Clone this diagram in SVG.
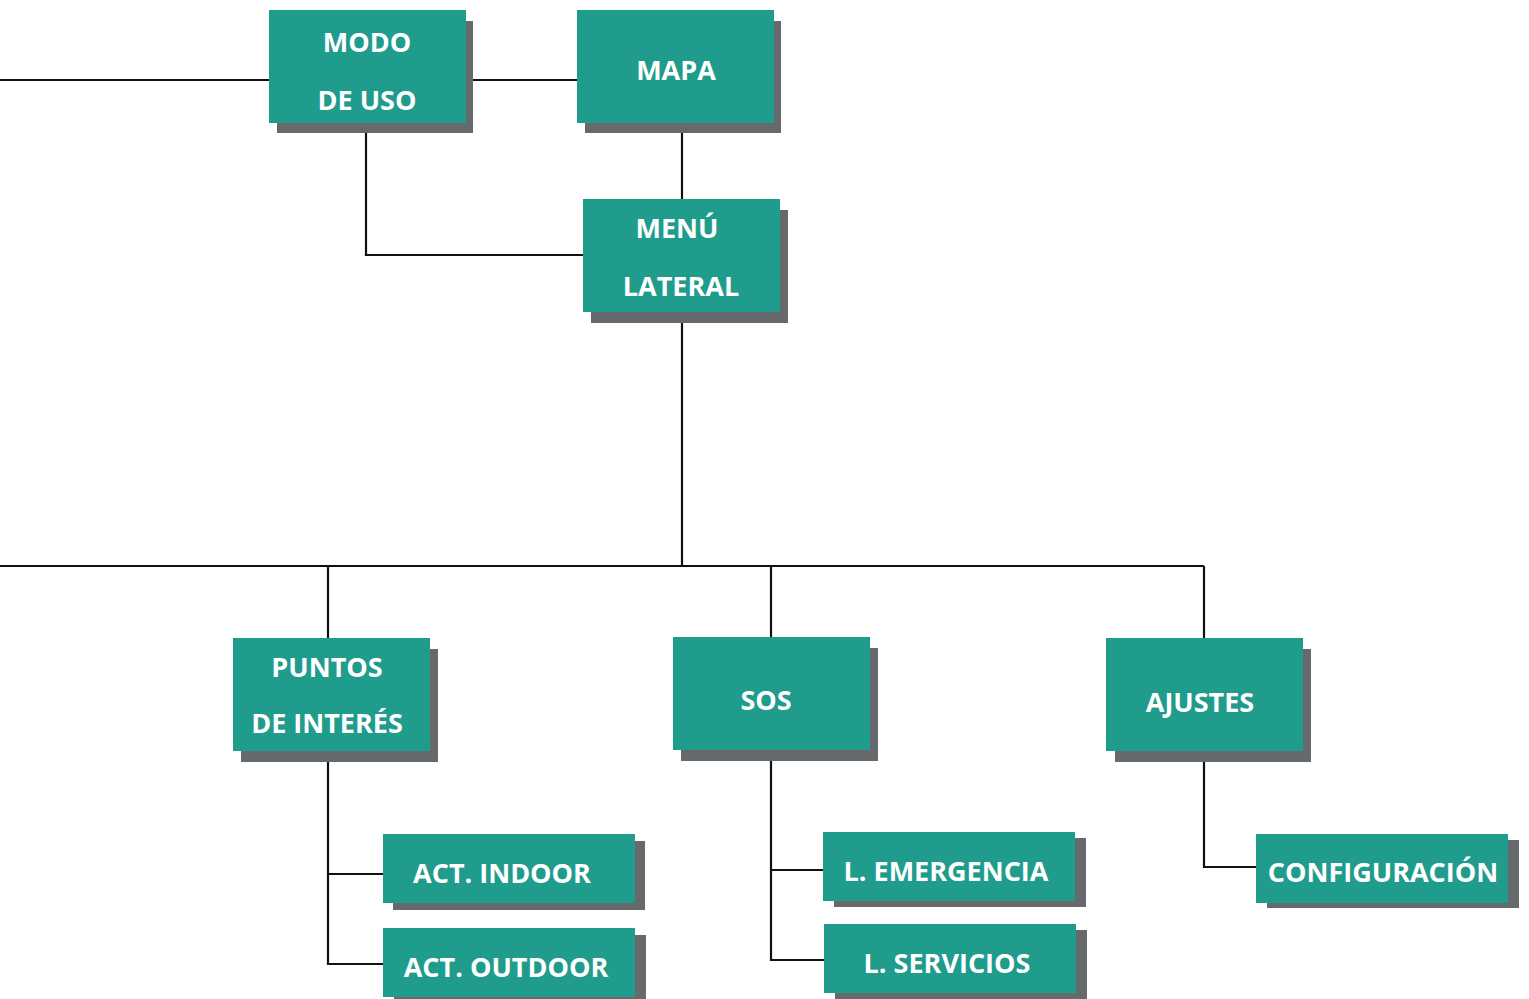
<svg xmlns="http://www.w3.org/2000/svg" width="1529" height="999" viewBox="0 0 1529 999">
<style>
.box{fill:#1f9c8b}
.sh{fill:#676a6c}
.t{font-family:"Open Sans","Liberation Sans",sans-serif;font-weight:700;font-size:27px;fill:#ffffff;text-anchor:middle}
.c{fill:none;stroke:#111111;stroke-width:2.2}
</style>
<rect width="1529" height="999" fill="#ffffff"/>
<g id="connectors">
<path class="c" d="M0 80 H270"/>
<path class="c" d="M472 80 H578"/>
<path class="c" d="M682 132 V200"/>
<path class="c" d="M366 132 V255 H584"/>
<path class="c" d="M682 322 V566"/>
<path class="c" d="M0 566 H1204"/>
<path class="c" d="M328 566 V639"/>
<path class="c" d="M771 566 V638"/>
<path class="c" d="M1204 566 V639"/>
<path class="c" d="M328 761 V964 H384"/>
<path class="c" d="M328 874 H384"/>
<path class="c" d="M771 760 V960 H825"/>
<path class="c" d="M771 870 H824"/>
<path class="c" d="M1204 761 V867 H1257"/>
</g>
<g id="modo-de-uso">
<rect class="sh" x="277" y="21" width="196" height="112"/>
<rect class="box" x="269" y="10" width="197" height="113"/>
<text class="t" x="367" y="52">MODO</text>
<text class="t" x="367" y="110">DE USO</text>
</g>
<g id="mapa">
<rect class="sh" x="585" y="21" width="196" height="112"/>
<rect class="box" x="577" y="10" width="197" height="113"/>
<text class="t" x="676" y="80">MAPA</text>
</g>
<g id="menu-lateral">
<rect class="sh" x="591" y="210" width="197" height="113"/>
<rect class="box" x="583" y="199" width="197" height="113"/>
<text class="t" x="677" y="238">MENÚ</text>
<text class="t" x="681" y="296">LATERAL</text>
</g>
<g id="puntos-de-interes">
<rect class="sh" x="241" y="649" width="197" height="113"/>
<rect class="box" x="233" y="638" width="197" height="113"/>
<text class="t" x="327" y="677">PUNTOS</text>
<text class="t" x="327" y="733">DE INTERÉS</text>
</g>
<g id="sos">
<rect class="sh" x="681" y="648" width="197" height="113"/>
<rect class="box" x="673" y="637" width="197" height="113"/>
<text class="t" x="766" y="710">SOS</text>
</g>
<g id="ajustes">
<rect class="sh" x="1115" y="649" width="196" height="113"/>
<rect class="box" x="1106" y="638" width="197" height="113"/>
<text class="t" x="1200" y="712">AJUSTES</text>
</g>
<g id="act-indoor">
<rect class="sh" x="393" y="841" width="252" height="69"/>
<rect class="box" x="383" y="834" width="252" height="69"/>
<text class="t" x="502" y="883">ACT. INDOOR</text>
</g>
<g id="act-outdoor">
<rect class="sh" x="394" y="935" width="252" height="64"/>
<rect class="box" x="383" y="928" width="252" height="69"/>
<text class="t" x="506" y="977">ACT. OUTDOOR</text>
</g>
<g id="l-emergencia">
<rect class="sh" x="834" y="838" width="252" height="69"/>
<rect class="box" x="823" y="832" width="252" height="69"/>
<text class="t" x="946" y="881">L. EMERGENCIA</text>
</g>
<g id="l-servicios">
<rect class="sh" x="835" y="930" width="252" height="69"/>
<rect class="box" x="824" y="924" width="252" height="69"/>
<text class="t" x="947" y="973">L. SERVICIOS</text>
</g>
<g id="configuracion">
<rect class="sh" x="1267" y="840" width="252" height="68"/>
<rect class="box" x="1256" y="834" width="252" height="69"/>
<text class="t" x="1383" y="882">CONFIGURACIÓN</text>
</g>
</svg>
